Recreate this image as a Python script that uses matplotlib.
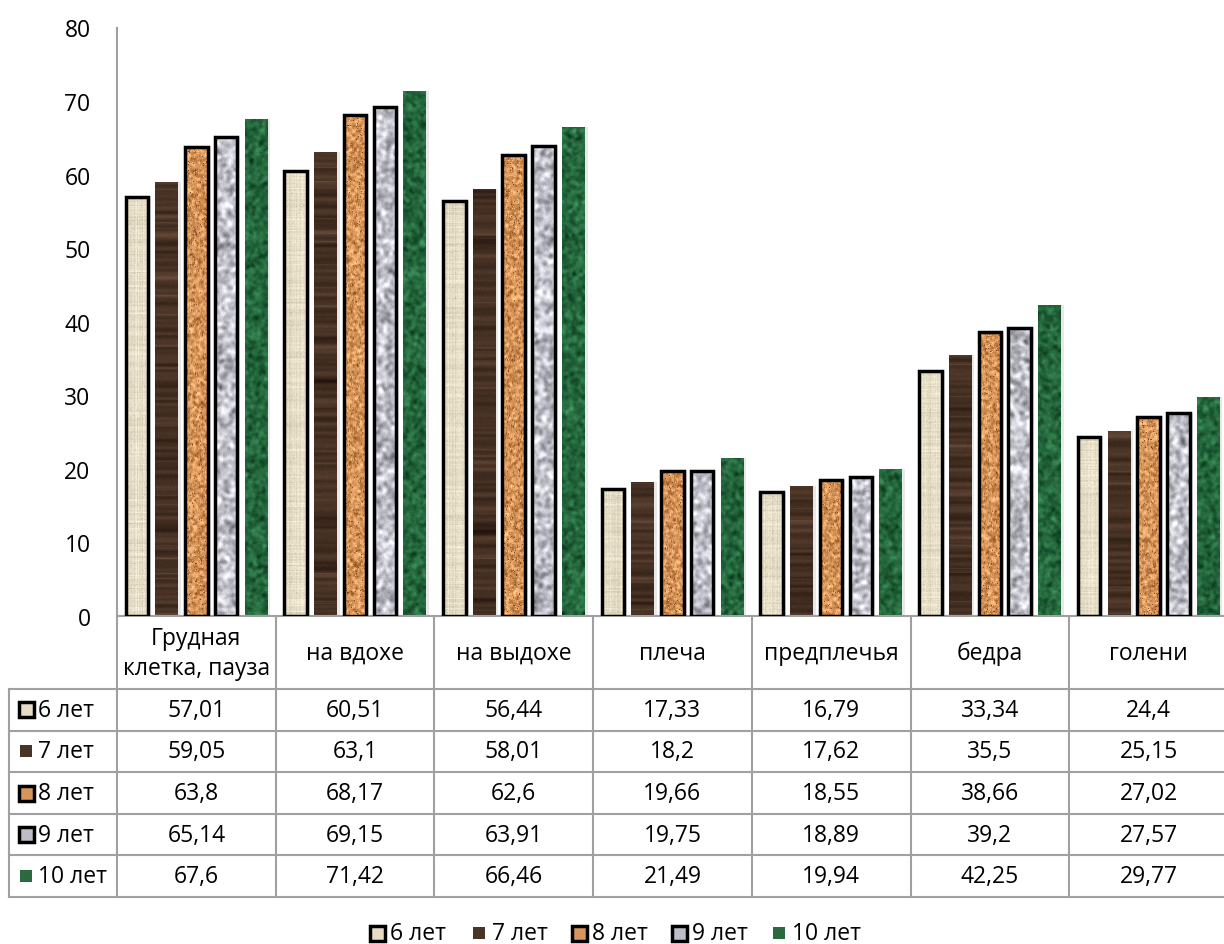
import numpy as np
import matplotlib
matplotlib.use("Agg")
import matplotlib.pyplot as plt
from matplotlib.patches import Rectangle

plt.rcParams['font.family'] = ['Open Sans', 'DejaVu Sans']

# Обхваты (см) по возрастам
categories = ['Грудная\nклетка, пауза', 'на вдохе', 'на выдохе', 'плеча',
              'предплечья', 'бедра', 'голени']
series_names = ['6 лет', '7 лет', '8 лет', '9 лет', '10 лет']
age6 = [57.01, 60.51, 56.44, 17.33, 16.79, 33.34, 24.4]
age7 = [59.05, 63.1, 58.01, 18.2, 17.62, 35.5, 25.15]
age8 = [63.8, 68.17, 62.6, 19.66, 18.55, 38.66, 27.02]
age9 = [65.14, 69.15, 63.91, 19.75, 18.89, 39.2, 27.57]
age10 = [67.6, 71.42, 66.46, 21.49, 19.94, 42.25, 29.77]
series = [age6, age7, age8, age9, age10]
yticks = list(range(0, 81, 10))

# fill styles: base colour, texture kind, outlined or not
base_colors = ['#e6dcc5', '#4a3426', '#d6955a', '#bcbdc6', '#2b6a40']
kinds = ['papyrus', 'wood', 'cork', 'granite', 'marble']
outlined = [True, False, True, True, False]

W, H = 1224, 945
AX_L, AX_T, AX_B = 117, 28.5, 617
CW = 158.7                     # width of one category column, px
PX_PER_UNIT = (AX_B - AX_T) / 80
GRID = '#a0a0a0'
FS = 16.5

rng = np.random.default_rng(11)


def smooth(a, k):
    for _ in range(k):
        a = (a + np.roll(a, 1, 0) + np.roll(a, -1, 0)) / 3
        a = (a + np.roll(a, 1, 1) + np.roll(a, -1, 1)) / 3
    return a


def noise(shape, k, amp):
    a = smooth(rng.standard_normal(shape), k)
    return a / a.std() * amp


def texture(kind, h, w):
    h = max(h, 6)
    if kind == 'papyrus':
        base = np.array([232, 223, 201.0])
        v = (noise((h, 1), 0, 6) + noise((1, w), 0, 5) + noise((h, w), 0, 4))
        v = v + (rng.random((h, w)) < 0.05) * -18
        img = base + v[..., None] * np.array([1, 1, 1.1])
    elif kind == 'wood':
        base = np.array([70, 49, 36.0])
        rows = noise((h, 1), 2, 9)
        rows = rows + (rng.random((h, 1)) < 0.05) * 18
        v = rows + noise((h, w), 0, 2)
        img = base + v[..., None] * np.array([1.0, 0.8, 0.65])
    elif kind == 'cork':
        base = np.array([214, 148, 88.0])
        v = noise((h, w), 1, 22)
        img = base + v[..., None] * np.array([1.0, 0.95, 0.85])
        r = rng.random((h, w))
        img[r < 0.03] = [130, 65, 35]
        img[r > 0.96] = [240, 196, 140]
    elif kind == 'granite':
        base = np.array([190, 191, 199.0])
        v = noise((h, w), 4, 26) + noise((h, w), 0, 5)
        img = base + v[..., None]
    else:
        base = np.array([36, 102, 60.0])
        v = noise((h, w), 3, 14) + noise((h, w), 0, 4)
        img = base + v[..., None] * np.array([0.6, 1.0, 0.7])
    return np.clip(img, 0, 255).astype(np.uint8)


fig = plt.figure(figsize=(W / 100, H / 100), dpi=100)
ax = fig.add_axes([AX_L / W, (H - AX_B) / H, 7 * CW / W, (AX_B - AX_T) / H])

x = np.arange(len(categories))
step = 0.1875
bar_w = 0.142
shadow_dx = 3 / CW

for k, vals in enumerate(series):
    pos = x + (k - 2) * step
    # soft shadow to the right of each bar
    ax.bar(pos + shadow_dx, vals, width=bar_w, color='#d9d9d9', alpha=0.6,
           zorder=1, linewidth=0)
    bars = ax.bar(pos, vals, width=bar_w, facecolor=base_colors[k],
                  linewidth=0, zorder=1.5)
    for rect, v in zip(bars, vals):
        img = texture(kinds[k], int(v * PX_PER_UNIT), 23)
        im = ax.imshow(img, extent=[rect.get_x(), rect.get_x() + bar_w, 0, v],
                       aspect='auto', interpolation='bilinear', zorder=2)
        im.set_clip_path(rect)
    if outlined[k]:
        # outline drawn above the texture
        ax.bar(pos, vals, width=bar_w, facecolor='none', edgecolor='black',
               linewidth=2.5, zorder=4)

ax.set_xlim(-0.5, len(categories) - 0.5)
ax.set_ylim(0, 80)
ax.set_yticks(yticks)
ax.set_yticklabels([str(t) for t in yticks], fontsize=FS, color='black')
ax.tick_params(axis='y', length=0, pad=19)
ax.set_xticks([])
for s in ['top', 'right']:
    ax.spines[s].set_visible(False)
for s in ['left', 'bottom']:
    ax.spines[s].set_color(GRID)
    ax.spines[s].set_linewidth(1.5)
ax.patch.set_alpha(0)

# data table below the plot, in pixel coordinates
tab = fig.add_axes([0, 0, 1, 1], zorder=-1)
tab.set_xlim(0, W)
tab.set_ylim(H, 0)
tab.axis('off')

row_top = 690
row_h = 41.6
col_edges = [AX_L + i * CW for i in range(len(categories) + 1)]
n_rows = len(series)
table_bottom = row_top + n_rows * row_h
lw = 1.5

for xe in col_edges:
    tab.plot([xe, xe], [AX_B, table_bottom], color=GRID, lw=lw)
tab.plot([9, 9], [row_top, table_bottom], color=GRID, lw=lw)
for r in range(n_rows + 1):
    y = row_top + r * row_h
    tab.plot([9, col_edges[-1]], [y, y], color=GRID, lw=lw)

for i, cat in enumerate(categories):
    tab.text(AX_L + (i + 0.5) * CW, 654, cat, ha='center', va='center',
             fontsize=FS, linespacing=1.3)


def key(axh, cx, cy, k):
    if outlined[k]:
        axh.add_patch(Rectangle((cx - 7.5, cy - 7.5), 15, 15,
                                facecolor=base_colors[k], edgecolor='black',
                                linewidth=2.5))
    else:
        axh.add_patch(Rectangle((cx - 6, cy - 6), 12, 12,
                                facecolor=base_colors[k], edgecolor='none'))


for r, (name, vals) in enumerate(zip(series_names, series)):
    cy = row_top + (r + 0.5) * row_h
    key(tab, 26, cy, r)
    tab.text(38, cy, name, ha='left', va='center', fontsize=FS)
    for i, v in enumerate(vals):
        tab.text(AX_L + (i + 0.5) * CW, cy, f"{v:g}".replace('.', ','),
                 ha='center', va='center', fontsize=FS)

# legend under the table
leg_x = [377, 479, 579, 679, 779]
for k, name in enumerate(series_names):
    key(tab, leg_x[k], 934, k)
    tab.text(leg_x[k] + 13, 934, name, ha='left', va='center', fontsize=FS)

fig.savefig('out.png', dpi=100)
